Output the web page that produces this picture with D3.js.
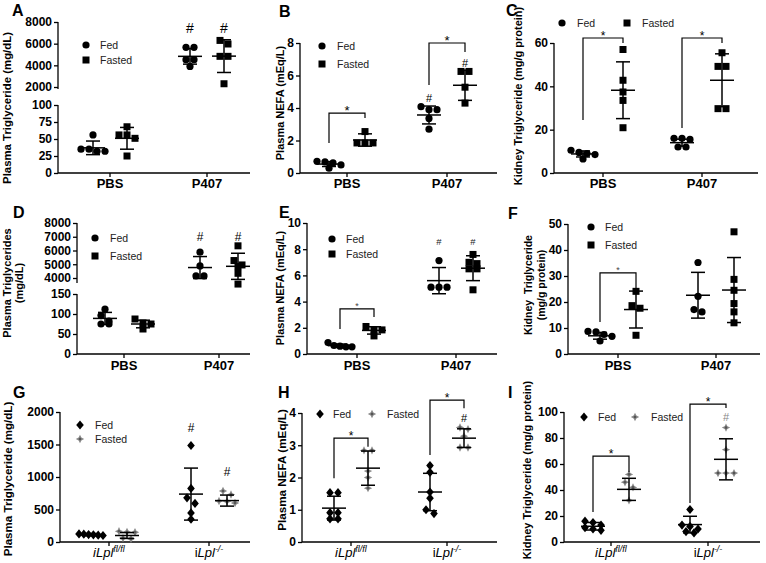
<!DOCTYPE html>
<html>
<head>
<meta charset="utf-8">
<script src="https://cdn.jsdelivr.net/npm/d3@7"></script>
<style>
body { margin: 0; background: #fff; }
text { font-family: "Liberation Sans", Arial, sans-serif; }
</style>
</head>
<body>
<div id="viz"></div>
<script>

// categories
var treatCats = ["PBS", "P407"];
var genoCats = ["fl", "ko"];

// A - plasma TG (mg/dL), [PBS, P407]
var aFed = [[56, 35, 32, 32, 35], [5660, 5660, 4520, 4520, 3900]];
var aFasted = [[68, 56, 56, 51, 25], [6300, 5970, 4830, 4830, 2300]];
var aFedMean = [37, 4830], aFedSD = [10, 720];
var aFastedMean = [51, 4850], aFastedSD = [16, 1510];

// B - plasma NEFA (mEq/L)
var bFed = [[0.72, 0.68, 0.62, 0.5, 0.3], [4.08, 3.9, 3.9, 3.36, 2.7]];
var bFasted = [[2.55, 1.85, 1.85, 1.85], [6.25, 6.25, 5.28, 4.3]];
var bFedMean = [0.55, 3.57], bFedSD = [0.15, 0.55];
var bFastedMean = [2.03, 5.4], bFastedSD = [0.38, 0.93];

// C - kidney TG (mg/g protein)
var cFed = [[10.5, 9.5, 9, 8.5, 6.5], [16, 16, 15.5, 12, 12]];
var cFasted = [[57, 42.8, 37.4, 33.5, 20.9], [55.5, 49.2, 49.2, 29.7, 29.7]];
var cFedMean = [8.8, 14], cFedSD = [1.4, 1.6];
var cFastedMean = [38.2, 42.8], cFastedSD = [13.1, 12.2];

// D - plasma TG (mg/dL)
var dFed = [[112, 96, 82, 75, 75], [5880, 4880, 4150, 4150]];
var dFasted = [[87.5, 77.5, 75, 62.5], [6340, 5270, 4950, 4830, 4340, 3560]];
var dFedMean = [89, 4760], dFedSD = [15, 800];
var dFastedMean = [75, 4850], dFastedSD = [9.5, 950];

// E - plasma NEFA (mEq/L)
var eFed = [[0.87, 0.65, 0.6, 0.55, 0.55], [7.13, 5.1, 5.1, 5.1]];
var eFasted = [[2.1, 1.84, 1.84, 1.38], [7.6, 7.0, 6.9, 6.5, 6.5, 4.9]];
var eFedMean = [0.64, 5.6], eFedSD = [0.12, 1.0];
var eFastedMean = [1.8, 6.55], eFastedSD = [0.28, 0.95];

// F - kidney TG (mg/g protein)
var fFed = [[8.7, 8.5, 7.5, 6.8, 5], [35.2, 22.2, 17.1, 16.2]];
var fFasted = [[24.1, 18.6, 17.6, 7.2], [47, 28.7, 24.5, 19.4, 16.2, 12]];
var fFedMean = [7, 22.6], fFedSD = [1.3, 8.8];
var fFastedMean = [17.1, 24.6], fFastedSD = [7.1, 12.5];

// G - plasma TG (mg/dL), [iLpl fl/fl, iLpl -/-]
var gFed = [[125, 120, 115, 110, 105, 100], [1485, 825, 680, 593, 448, 350]];
var gFasted = [[165, 150, 155, 60, 50], [785, 730, 630, 625, 600]];
var gFedMean = [113, 737], gFedSD = [17, 400];
var gFastedMean = [100, 637], gFastedSD = [45, 85];

// H - plasma NEFA (mEq/L)
var hFed = [[1.53, 1.53, 0.91, 0.91, 0.72, 0.72], [2.37, 2.16, 1.55, 1.36, 1.0, 0.88]];
var hFasted = [[2.84, 2.84, 2.2, 2.0, 1.67], [3.5, 3.55, 3.28, 2.93, 2.93]];
var hFedMean = [1.05, 1.55], hFedSD = [0.37, 0.58];
var hFastedMean = [2.29, 3.22], hFastedSD = [0.53, 0.29];

// I - kidney TG (mg/g protein)
var iFed = [[16, 15, 13, 11, 10, 9], [25, 13, 12, 10, 8, 7]];
var iFasted = [[52, 46, 42, 32], [88, 71, 53, 53, 53]];
var iFedMean = [12.1, 13.4], iFedSD = [2.9, 6.4];
var iFastedMean = [40.5, 63.6], iFastedSD = [8.5, 15.8];

// significance marks (values in data units)
var aHash = [[1, 0, 7450], [1, 1, 7450]];
var bHash = [[1, 0, 4.6], [1, 1, 6.77]];
var bBrackets = [[0, 3.69, 1.85, 3.38], [1, 8.0, 5.42, 7.45]];
var cBrackets = [[0, 62.3, 24.5, 60], [1, 62.3, 20.8, 60]];
var dHash = [[1, 0, 6980], [1, 1, 6980]];
var eHash = [[1, 0, 8.55], [1, 1, 8.55]];
var eBrackets = [[0, 3.44, 1.9, 2.82]];
var fBrackets = [[0, 31.2, 12.3, 24.2]];
var gHash = [[1, 0, 1754], [1, 1, 1077]];
var hHash = [[1, 1, 3.84]];
var hBrackets = [[0, 3.22, 1.98, 2.95], [1, 4.4, 2.7, 4.15]];
var iHash = [[1, 1, 96]];
var iBrackets = [[0, 66, 23, 53.8], [1, 106, 30, 103]];

var svg = d3.select("#viz").append("svg")
    .attr("width", 766)
    .attr("height", 563);

function marker(g, type, x, y) {
  if (type == "circle") {
    g.append("circle").attr("cx", x).attr("cy", y).attr("r", 3.6).style("fill", "#000");
  } else if (type == "square") {
    g.append("rect").attr("x", x - 3.5).attr("y", y - 3.5).attr("width", 7).attr("height", 7).style("fill", "#000");
  } else if (type == "diamond") {
    g.append("path").attr("d", "M0,-4.6L3.8,0L0,4.6L-3.8,0Z")
      .attr("transform", "translate(" + x + "," + y + ")").style("fill", "#000");
  } else {
    // grey star-ish diamond used for fasted in the iLpl panels
    g.append("path").attr("d", "M0,-4.2L1.4,-1.4L4.2,0L1.4,1.4L0,4.2L-1.4,1.4L-4.2,0L-1.4,-1.4Z")
      .attr("transform", "translate(" + x + "," + y + ")").style("fill", "#8a8a8a");
    g.append("circle").attr("cx", x).attr("cy", y).attr("r", 1.3).style("fill", "#555");
  }
}

// spread points with similar y into centred rows (rows kept narrow)
function swarm(vals, y, cx) {
  var pts = vals.map(function(v) { return {v: v, py: y(v)}; })
    .sort(function(a, b) { return a.py - b.py; });
  var rows = [], cur = null;
  pts.forEach(function(p) {
    if (cur && Math.abs(p.py - cur[0].py) < 6) cur.push(p);
    else { cur = [p]; rows.push(cur); }
  });
  var out = [];
  rows.forEach(function(r) {
    var step = r.length > 1 ? Math.min(8, 24 / (r.length - 1)) : 0;
    r.forEach(function(p, i) { out.push({x: cx + (i - (r.length - 1) / 2) * step, y: p.py}); });
  });
  return out;
}

function drawPanel(p) {
  var g = svg.append("g");
  var yLo = d3.scaleLinear().domain(p.dom).range(p.rng);
  var yHi = p.brk ? d3.scaleLinear().domain(p.brk.dom).range(p.brk.rng) : null;
  var cut = p.brk ? (p.dom[1] + p.brk.dom[0]) / 2 : Infinity;
  var y = function(v) { return v > cut ? yHi(v) : yLo(v); };
  var x = d3.scalePoint().domain(p.cats).range(p.cx);
  var gx = function(c, grp) { return x(p.cats[c]) + (grp == 0 ? -p.off : p.off); };

  // y axis
  var ay = g.append("g").attr("transform", "translate(" + p.x0 + ",0)")
    .call(d3.axisLeft(yLo).tickValues(p.ticks).tickSize(4).tickPadding(2).tickFormat(d3.format("d")));
  if (p.brk) {
    ay.append("g").call(d3.axisLeft(yHi).tickValues(p.brk.ticks).tickSize(4).tickPadding(2).tickFormat(d3.format("d")));
  }
  ay.selectAll(".domain").remove();
  ay.selectAll("line").style("stroke", "#000").style("stroke-width", 1.3);
  ay.selectAll("text").style("font-size", "12px").style("font-weight", "bold").style("fill", "#000")
    .style("font-family", "'Liberation Sans', Arial, sans-serif");
  g.append("line").attr("x1", p.x0).attr("x2", p.x0).attr("y1", p.rng[0]).attr("y2", p.rng[1])
    .style("stroke", "#000").style("stroke-width", 1.3);
  if (p.brk) {
    g.append("line").attr("x1", p.x0).attr("x2", p.x0).attr("y1", p.brk.rng[0] + p.brk.ext).attr("y2", p.brk.rng[1])
      .style("stroke", "#000").style("stroke-width", 1.3);
  }

  // x axis
  g.append("line").attr("x1", p.x0).attr("x2", p.x1).attr("y1", p.rng[0]).attr("y2", p.rng[0])
    .style("stroke", "#000").style("stroke-width", 1.3);
  p.cats.forEach(function(c, i) {
    g.append("line").attr("x1", x(c)).attr("x2", x(c)).attr("y1", p.rng[0]).attr("y2", p.rng[0] + 4)
      .style("stroke", "#000").style("stroke-width", 1.3);
    var t = g.append("text").attr("x", x(c)).attr("y", p.labY).attr("text-anchor", "middle").style("fill", "#000");
    if (p.geno) {
      t.style("font-size", "13px");
      if (c == "fl") {
        t.append("tspan").style("font-style", "italic").text("iLpl");
        t.append("tspan").style("font-style", "italic").style("font-size", "9px").attr("dy", -5).text("fl/fl");
      } else {
        t.append("tspan").text("i");
        t.append("tspan").style("font-style", "italic").text("Lpl");
        t.append("tspan").style("font-style", "italic").style("font-size", "9px").attr("dy", -5).text("-/-");
      }
    } else {
      t.style("font-size", "13px").style("font-weight", "bold").text(c);
    }
  });

  // y title
  p.title.forEach(function(s, i) {
    g.append("text")
      .attr("transform", "translate(" + p.tx[i] + "," + p.ty + ") rotate(-90)")
      .attr("text-anchor", "middle").attr("dominant-baseline", "central")
      .style("font-size", p.tfs + "px").style("font-weight", "bold").style("fill", "#000")
      .text(s);
  });

  // panel letter
  g.append("text").attr("x", p.letter[1]).attr("y", p.letter[2])
    .style("font-size", "16px").style("font-weight", "bold").text(p.letter[0]);

  // points and error bars
  [[p.fed, p.fedMean, p.fedSD], [p.fasted, p.fastedMean, p.fastedSD]].forEach(function(s, grp) {
    s[0].forEach(function(vals, c) {
      var cx = gx(c, grp);
      swarm(vals, y, cx).forEach(function(pt) { marker(g, p.sym[grp], pt.x, pt.y); });
      var m = s[1][c], sd = s[2][c];
      var hi = y(m + sd), lo = y(m - sd), my = y(m);
      var ln = function(x1, x2, y1, y2) {
        g.append("line").attr("x1", x1).attr("x2", x2).attr("y1", y1).attr("y2", y2)
          .style("stroke", "#000").style("stroke-width", 1.5);
      };
      ln(cx, cx, hi, lo);
      ln(cx - 7, cx + 7, hi, hi);
      ln(cx - 7, cx + 7, lo, lo);
      ln(cx - 12, cx + 12, my, my);
    });
  });

  // brackets with stars
  (p.brackets || []).forEach(function(b) {
    var xl = gx(b[0], 0), xr = gx(b[0], 1), yt = y(b[1]);
    g.append("path")
      .attr("d", "M" + xl + "," + y(b[2]) + "V" + yt + "H" + xr + "V" + y(b[3]))
      .style("fill", "none").style("stroke", "#000").style("stroke-width", 1.2);
    g.append("text").attr("x", (xl + xr) / 2).attr("y", yt - 5 + p.sfs * 0.57)
      .attr("text-anchor", "middle").style("font-size", p.sfs + "px").style("fill", p.scol)
      .text("*");
  });

  // hash marks
  (p.hash || []).forEach(function(h) {
    g.append("text").attr("x", gx(h[0], h[1])).attr("y", y(h[2]) + p.hfs * 0.36)
      .attr("text-anchor", "middle").style("font-size", p.hfs + "px").style("fill", p.hcol)
      .text("#");
  });

  // legend
  p.leg.forEach(function(l, i) {
    marker(g, p.sym[i], l[0], l[1]);
    g.append("text").attr("x", l[2]).attr("y", l[1]).attr("dominant-baseline", "central")
      .style("font-size", "10.5px").style("fill", "#222").text(i == 0 ? "Fed" : "Fasted");
  });
}

var panels = [
  {letter: ["A", 12, 16], cats: treatCats, cx: [110, 207], off: 17, x0: 58, x1: 250,
   dom: [0, 100], rng: [173, 105], ticks: [0, 25, 50, 75, 100],
   brk: {dom: [2000, 8000], rng: [87, 22], ticks: [2000, 4000, 6000, 8000], ext: 2},
   fed: aFed, fasted: aFasted, fedMean: aFedMean, fedSD: aFedSD, fastedMean: aFastedMean, fastedSD: aFastedSD,
   title: ["Plasma Triglyceride (mg/dL)"], tx: [7], ty: 108, tfs: 11.4, labY: 188,
   sym: ["circle", "square"], leg: [[86, 45, 100], [86, 60, 100]],
   hash: aHash, hfs: 14, hcol: "#000"},
  {letter: ["B", 279, 17], cats: treatCats, cx: [347, 447], off: 18, x0: 300, x1: 497,
   dom: [0, 8], rng: [173, 43], ticks: [0, 2, 4, 6, 8],
   fed: bFed, fasted: bFasted, fedMean: bFedMean, fedSD: bFedSD, fastedMean: bFastedMean, fastedSD: bFastedSD,
   title: ["Plasma NEFA (mEq/L)"], tx: [279.5], ty: 103, tfs: 11, labY: 188,
   sym: ["circle", "square"], leg: [[322, 46, 337], [322, 64, 337]],
   hash: bHash, hfs: 11, hcol: "#000", brackets: bBrackets, sfs: 13, scol: "#000"},
  {letter: ["C", 506, 16], cats: treatCats, cx: [603, 702], off: 20, x0: 554, x1: 758,
   dom: [0, 60], rng: [173, 43], ticks: [0, 20, 40, 60],
   fed: cFed, fasted: cFasted, fedMean: cFedMean, fedSD: cFedSD, fastedMean: cFastedMean, fastedSD: cFastedSD,
   title: ["Kidney Triglyceride (mg/g protein)"], tx: [518], ty: 96, tfs: 11, labY: 188,
   sym: ["circle", "square"], leg: [[562, 23, 577], [627, 23, 642]],
   brackets: cBrackets, sfs: 12, scol: "#000"},
  {letter: ["D", 13, 218], cats: treatCats, cx: [124, 219], off: 19, x0: 77, x1: 250,
   dom: [0, 150], rng: [354, 294], ticks: [0, 50, 100, 150],
   brk: {dom: [4000, 8000], rng: [278, 223], ticks: [4000, 5000, 6000, 7000, 8000], ext: 5},
   fed: dFed, fasted: dFasted, fedMean: dFedMean, fedSD: dFedSD, fastedMean: dFastedMean, fastedSD: dFastedSD,
   title: ["Plasma Triglycerides", "(mg/dL)"], tx: [7, 19], ty: 283, tfs: 11, labY: 370,
   sym: ["circle", "square"], leg: [[95, 238, 110], [95, 256, 110]],
   hash: dHash, hfs: 12, hcol: "#000"},
  {letter: ["E", 279, 218], cats: treatCats, cx: [357, 456], off: 17, x0: 307, x1: 497,
   dom: [0, 10], rng: [354, 223], ticks: [0, 2, 4, 6, 8, 10],
   fed: eFed, fasted: eFasted, fedMean: eFedMean, fedSD: eFedSD, fastedMean: eFastedMean, fastedSD: eFastedSD,
   title: ["Plasma NEFA (mEq/L)"], tx: [280], ty: 288, tfs: 11, labY: 370,
   sym: ["circle", "square"], leg: [[332, 239, 346], [332, 254, 346]],
   hash: eHash, hfs: 9.5, hcol: "#222", brackets: eBrackets, sfs: 9, scol: "#444"},
  {letter: ["F", 508, 219], cats: treatCats, cx: [618, 716], off: 18, x0: 568, x1: 760,
   dom: [0, 50], rng: [354, 224], ticks: [0, 10, 20, 30, 40, 50],
   fed: fFed, fasted: fFasted, fedMean: fFedMean, fedSD: fFedSD, fastedMean: fFastedMean, fastedSD: fFastedSD,
   title: ["Kidney\u00a0 Triglyceride", "(mg/g protein)"], tx: [527.5, 541], ty: 285, tfs: 10.5, labY: 370,
   sym: ["circle", "square"], leg: [[591, 227, 605], [591, 245, 605]],
   brackets: fBrackets, sfs: 9, scol: "#444"},
  {letter: ["G", 13, 398], cats: genoCats, geno: true, cx: [109, 209], off: 18, x0: 60, x1: 250,
   dom: [0, 2000], rng: [542, 412], ticks: [0, 500, 1000, 1500, 2000],
   fed: gFed, fasted: gFasted, fedMean: gFedMean, fedSD: gFedSD, fastedMean: gFastedMean, fastedSD: gFastedSD,
   title: ["Plasma Triglyceride (mg/dL)"], tx: [7], ty: 479, tfs: 11.6, labY: 557,
   sym: ["diamond", "gstar"], leg: [[80, 425, 95], [80, 439, 95]],
   hash: gHash, hfs: 12, hcol: "#000"},
  {letter: ["H", 278, 398], cats: genoCats, geno: true, cx: [351, 447], off: 17, x0: 302, x1: 497,
   dom: [0, 4], rng: [542, 413], ticks: [0, 1, 2, 3, 4],
   fed: hFed, fasted: hFasted, fedMean: hFedMean, fedSD: hFedSD, fastedMean: hFastedMean, fastedSD: hFastedSD,
   title: ["Plasma NEFA (mEq/L)"], tx: [281], ty: 470, tfs: 11.7, labY: 557,
   sym: ["diamond", "gstar"], leg: [[320, 414, 333], [372, 414, 387]],
   hash: hHash, hfs: 11, hcol: "#000", brackets: hBrackets, sfs: 12, scol: "#000"},
  {letter: ["I", 508, 398], cats: genoCats, geno: true, cx: [611, 708], off: 18, x0: 564, x1: 760,
   dom: [0, 100], rng: [542, 412], ticks: [0, 20, 40, 60, 80, 100],
   fed: iFed, fasted: iFasted, fedMean: iFedMean, fedSD: iFedSD, fastedMean: iFastedMean, fastedSD: iFastedSD,
   title: ["Kidney Triglyceride (mg/g protein)"], tx: [527], ty: 470, tfs: 11, labY: 557,
   sym: ["diamond", "gstar"], leg: [[584, 417, 598], [635, 417, 651]],
   hash: iHash, hfs: 11, hcol: "#888", brackets: iBrackets, sfs: 12, scol: "#000"}
];

panels.forEach(drawPanel);

</script>
</body>
</html>
